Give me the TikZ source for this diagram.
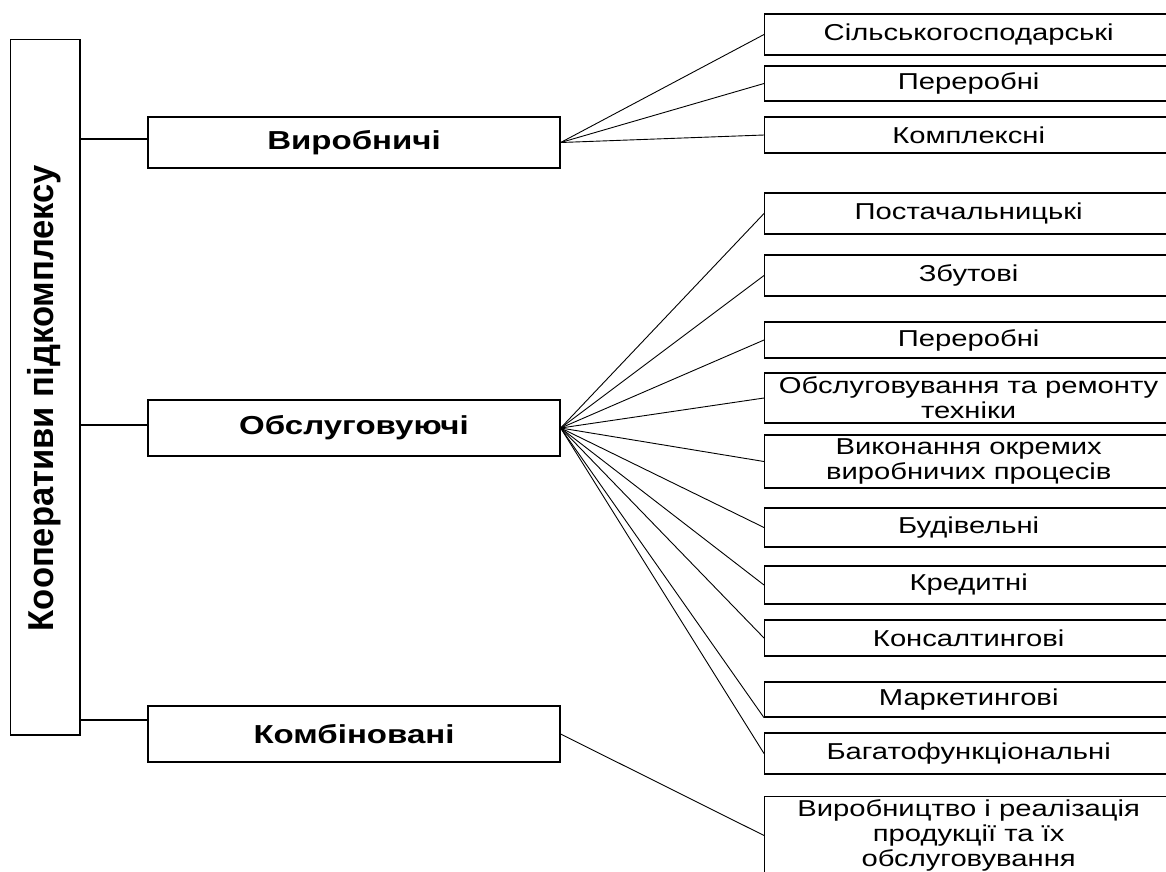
\documentclass[tikz,border=0pt]{standalone}
\usepackage{fontspec}
\setmainfont{Liberation Sans}[FakeStretch=1.27]
\newfontfamily\coopFont{Liberation Sans}[FakeStretch=0.96]

\begin{document}
\begin{tikzpicture}[x=1pt, y=-1pt,
	box/.style={draw, line width=1.3pt, inner sep=0pt, align=center, font=\fontsize{23}{25}\selectfont},
	rightBox/.style={box, anchor=west, minimum width=408pt},
	typeBox/.style={box, minimum width=412pt, font=\fontsize{26}{28}\selectfont\bfseries},
	thickLink/.style={line width=1.8pt},
	fanLink/.style={line width=0.9pt}]

% Define page.

	\useasboundingbox (0,0) rectangle (1166,871);

% Draw main box.

	\node[box, minimum width=69.5pt, minimum height=695.5pt] (coopBox) at (45.25, 387.25) {};
	\node[rotate=90, font=\coopFont\fontsize{36}{38}\selectfont\bfseries] (coopLabel) at (44, 398) {Кооперативи підкомплексу};

% Draw type boxes.

	\node[typeBox, minimum height=51pt] (prodBox) at (354, 142.5) {Виробничі};
	\node[typeBox, minimum height=56pt] (serviceBox) at (354, 428) {Обслуговуючі};
	\node[typeBox, minimum height=56pt] (combBox) at (354, 734) {Комбіновані};

% Draw right boxes.

	%production
	\node[rightBox, minimum height=41pt] (agriBox) at (764, 34.5) {Сільськогосподарські};
	\node[rightBox, minimum height=35pt] (procBoxA) at (764, 83.5) {Переробні};
	\node[rightBox, minimum height=36pt] (complexBox) at (764, 135) {Комплексні};

	%service
	\node[rightBox, minimum height=41pt] (supplyBox) at (764, 213.5) {Постачальницькі};
	\node[rightBox, minimum height=41pt] (salesBox) at (764, 275.5) {Збутові};
	\node[rightBox, minimum height=36pt] (procBoxB) at (764, 340) {Переробні};
	\node[rightBox, minimum height=50pt] (repairBox) at (764, 398) {Обслуговування та ремонту\\техніки};
	\node[rightBox, minimum height=53pt] (stageBox) at (764, 461.5) {Виконання окремих\\виробничих процесів};
	\node[rightBox, minimum height=39pt] (buildBox) at (764, 527.5) {Будівельні};
	\node[rightBox, minimum height=38pt] (creditBox) at (764, 585) {Кредитні};
	\node[rightBox, minimum height=36pt] (consultBox) at (764, 638) {Консалтингові};
	\node[rightBox, minimum height=35pt] (marketBox) at (764, 699.5) {Маркетингові};
	\node[rightBox, minimum height=41pt] (multiBox) at (764, 753.5) {Багатофункціональні};

	%combined
	\node[box, anchor=north west, minimum width=408pt, inner ysep=3pt] (saleServBox) at (764, 796) {Виробництво і реалізація\\продукції та їх\\обслуговування};

% Draw links from main box.

	\draw[thickLink] ([yshift=3.5pt]prodBox.west) -- ([yshift=3.5pt]prodBox.west -| coopBox.east);
	\draw[thickLink] ([yshift=3pt]serviceBox.west) -- ([yshift=3pt]serviceBox.west -| coopBox.east);
	\draw[thickLink] ([yshift=14pt]combBox.west) -- ([yshift=14pt]combBox.west -| coopBox.east);

% Draw fan links.

	\draw[fanLink] (prodBox.east) -- (agriBox.west);
	\draw[fanLink] (prodBox.east) -- (procBoxA.west);
	\draw[fanLink] (prodBox.east) -- (complexBox.west);

	\draw[fanLink] (serviceBox.east) -- (supplyBox.west);
	\draw[fanLink] (serviceBox.east) -- (salesBox.west);
	\draw[fanLink] (serviceBox.east) -- (procBoxB.west);
	\draw[fanLink] (serviceBox.east) -- (repairBox.west);
	\draw[fanLink] (serviceBox.east) -- (stageBox.west);
	\draw[fanLink] (serviceBox.east) -- (buildBox.west);
	\draw[fanLink] (serviceBox.east) -- (creditBox.west);
	\draw[fanLink] (serviceBox.east) -- (consultBox.west);
	\draw[fanLink] (serviceBox.east) -- (marketBox.south west);
	\draw[fanLink] (serviceBox.east) -- (multiBox.west);

	\draw[fanLink] (combBox.east) -- (saleServBox.west);

\end{tikzpicture}
\end{document}
